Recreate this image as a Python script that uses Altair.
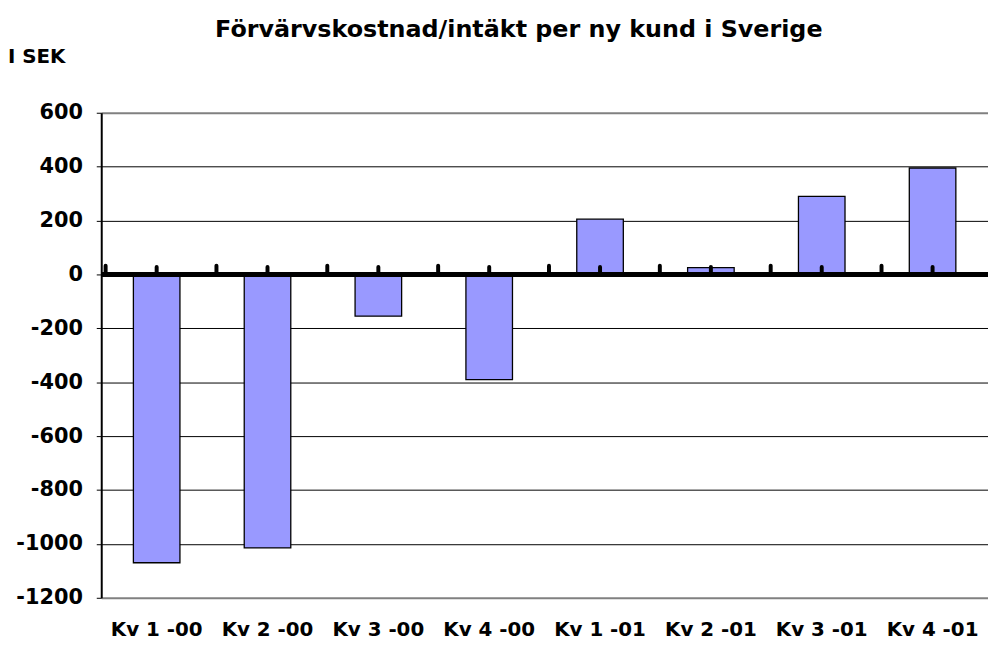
import altair as alt
import pandas as pd

categories = ["Kv 1 -00", "Kv 2 -00", "Kv 3 -00", "Kv 4 -00",
              "Kv 1 -01", "Kv 2 -01", "Kv 3 -01", "Kv 4 -01"]
values = [-1070, -1015, -155, -390, 205, 25, 290, 395]
y_ticks = [-1200, -1000, -800, -600, -400, -200, 0, 200, 400, 600]
title_text = "Förvärvskostnad/intäkt per ny kund i Sverige"
unit_text = "I SEK"

FONT = "DejaVu Sans"
W, H = 894, 489

df = pd.DataFrame({"cat": categories, "val": values})

xscale = alt.Scale(domain=categories, paddingInner=0.58, paddingOuter=0.29)
yscale = alt.Scale(domain=[-1200, 600], nice=False, zero=False)

base = alt.Chart(df)

bars = base.mark_bar(color="#9999FF", stroke="black", strokeWidth=1.3).encode(
    x=alt.X("cat:N", scale=xscale, sort=categories,
            axis=alt.Axis(title=None, labelAngle=0, labelFont=FONT, labelFontSize=20,
                          labelFontWeight="bold", labelColor="black", ticks=False,
                          domain=False, labelPadding=22, grid=False)),
    y=alt.Y("val:Q", scale=yscale,
            axis=alt.Axis(title=None, values=y_ticks, grid=True,
                          gridColor={"condition": {"test": "datum.value == 600 || datum.value == -1200",
                                                   "value": "#808080"}, "value": "black"},
                          gridWidth={"condition": {"test": "datum.value == 600 || datum.value == -1200",
                                                   "value": 2}, "value": 1},
                          labelFont=FONT, labelFontSize=21,
                          labelFontWeight="bold", labelColor="black",
                          labelExpr="datum.value + ''",
                          tickColor="black", tickSize=5, labelPadding=14,
                          domainColor="black", domainWidth=2)),
    y2=alt.datum(0),
)

zero = base.mark_rule(color="black", strokeWidth=5).encode(
    x=alt.value(0), x2=alt.value(W), y=alt.Y("z:Q", scale=yscale)
).transform_calculate(z="0")

tick_df = pd.DataFrame({"cat": categories})
center_ticks = alt.Chart(tick_df).mark_rule(
    color="black", strokeWidth=4, strokeCap="round", opacity=1
).encode(
    x=alt.X("cat:N", scale=xscale, sort=categories, bandPosition=0.5),
    y=alt.Y("z:Q", scale=yscale),
    y2=alt.Y2("z2:Q"),
).transform_calculate(z="0", z2="28")

boundary_ticks = alt.Chart(tick_df).mark_rule(
    color="black", strokeWidth=4, strokeCap="round"
).encode(
    x=alt.X("cat:N", scale=xscale, sort=categories, bandPosition=0),
    y=alt.Y("z:Q", scale=yscale),
    y2=alt.Y2("z2:Q"),
    xOffset=alt.value(-28),
).transform_calculate(z="0", z2="32")

title = alt.Chart(pd.DataFrame({"t": [title_text]})).mark_text(
    font=FONT, fontSize=24, fontWeight="bold", color="black", align="center", baseline="middle"
).encode(x=alt.value(421), y=alt.value(-83), text="t:N")

unit = alt.Chart(pd.DataFrame({"t": [unit_text]})).mark_text(
    font=FONT, fontSize=20, fontWeight="bold", color="black", align="left", baseline="middle"
).encode(x=alt.value(-94), y=alt.value(-56), text="t:N")

chart = alt.layer(bars, zero, center_ticks, boundary_ticks, title, unit).properties(
    width=W, height=H, autosize="none",
    padding={"left": 94, "top": 103, "right": 0, "bottom": 46},
).configure_view(stroke=None)

chart.save("out.html", embed_options={"renderer": "svg", "actions": False})
